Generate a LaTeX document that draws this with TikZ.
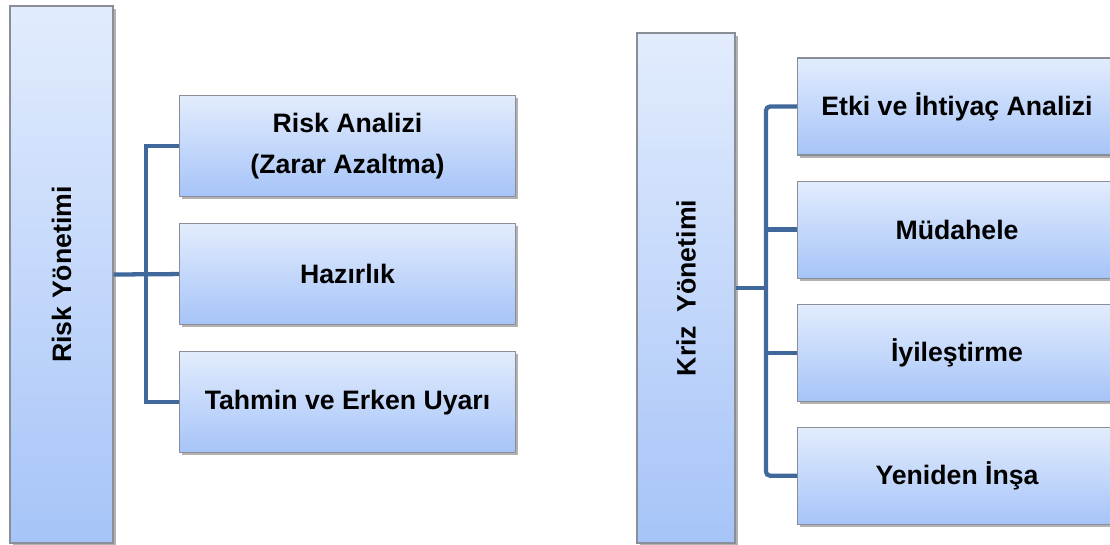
\documentclass[tikz,border=0pt]{standalone}
\usepackage{fontspec}
\setmainfont{Liberation Sans}
\usepackage{tikz}
\usetikzlibrary{positioning, shadows, calc}
\definecolor{boxTop}{HTML}{E2ECFD}
\definecolor{boxBottom}{HTML}{A6C4F8}
\definecolor{boxLine}{HTML}{8A8E96}
\definecolor{connBlue}{HTML}{41689A}
\tikzstyle{boxBase} = [rectangle, draw=boxLine, line width=0.8pt, top color=boxTop, bottom color=boxBottom, drop shadow={shadow xshift=2pt, shadow yshift=-2pt, opacity=0.3, fill=black}, font=\fontsize{20}{31}\selectfont\bfseries, align=center]
\tikzstyle{boxTall} = [boxBase, inner sep=0pt]
\tikzstyle{boxRisk} = [boxBase, minimum width=252pt, minimum height=75.75pt]
\tikzstyle{boxKriz} = [boxBase, minimum width=239.25pt, minimum height=72.75pt]
\tikzstyle{conn} = [draw=connBlue, line width=3.2pt]

\begin{document}
\begin{tikzpicture}[x=0.75pt, y=-0.75pt]
\clip (0,0) rectangle (1110,544);
\fill[white] (0,0) rectangle (1110,544);

% risk side
\node (riskyon) [boxTall, minimum width=77.25pt, minimum height=402.75pt,
  label={[rotate=90, font=\fontsize{20}{25}\selectfont\bfseries]center:Risk Yönetimi}] at (61.5,274.5) {};

\node (analiz) [boxRisk, anchor=west] at (179,146) {Risk Analizi\\(Zarar Azaltma)};
\node (hazir) [boxRisk, below=19.5pt of analiz] {Hazırlık};
\node (tahmin) [boxRisk, below=19.5pt of hazir] {Tahmin ve Erken Uyarı};

\coordinate (riskbus) at ($(riskyon.east)!0.5!(hazir.west)$);
\draw [conn] (analiz.west) -| (riskbus) |- (tahmin.west);
\draw [conn] (riskyon.east) -- (hazir.west);

% kriz side
\node (krizyon) [boxTall, minimum width=73.5pt, minimum height=382.5pt,
  label={[rotate=90, font=\fontsize{20}{25}\selectfont\bfseries]center:Kriz\hspace{0.5em}Yönetimi}] at (686,288) {};

\node (etki) [boxKriz, anchor=west] at (797,106.5) {Etki ve İhtiyaç Analizi};
\node (mudahale) [boxKriz, below=18.75pt of etki] {Müdahele};
\node (iyiles) [boxKriz, below=18.75pt of mudahale] {İyileştirme};
\node (insa) [boxKriz, below=18.75pt of iyiles] {Yeniden İnşa};

\coordinate (krizbus) at (766,288);
\draw [conn, rounded corners=3pt] (etki.west) -| (krizbus) |- (insa.west);
\draw [conn] (krizyon.east) -- (krizbus);
\draw [conn] (krizbus |- mudahale.west) -- (mudahale.west);
\draw [conn] (krizbus |- iyiles.west) -- (iyiles.west);

\end{tikzpicture}
\end{document}
